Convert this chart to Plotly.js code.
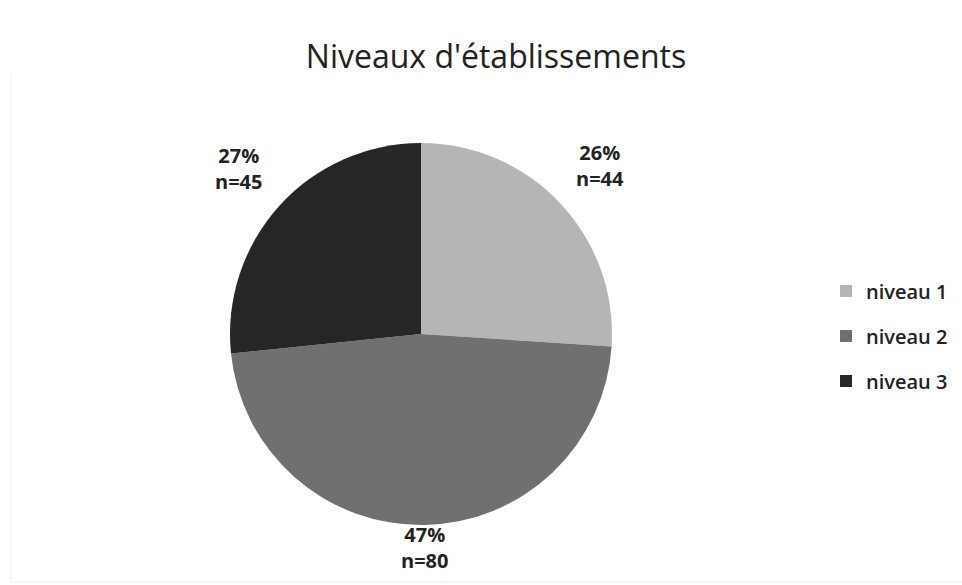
<!DOCTYPE html>
<html>
<head>
<meta charset="utf-8">
<script src="https://cdn.plot.ly/plotly-3.0.1.min.js"></script>
<style>html,body{margin:0;padding:0;background:#fff;}#chart{width:962px;height:585px;}</style>
</head>
<body>
<div id="chart"></div>
<script>
const labels = ['niveau 1', 'niveau 2', 'niveau 3'];
const counts = [44, 80, 45];
const colors = ['#b5b5b5', '#707070', '#262626'];
const titleText = "Niveaux d'établissements";

const W = 962, H = 585;
const cx = 421, cy = 334, r = 191;

const total = counts.reduce((a, b) => a + b, 0);

const pie = {
  type: 'pie',
  labels: labels,
  values: counts,
  sort: false,
  direction: 'clockwise',
  rotation: 0,
  marker: { colors: colors, line: { width: 0 } },
  textinfo: 'none',
  showlegend: false,
  domain: { x: [(cx - r) / W, (cx + r) / W], y: [(H - cy - r) / H, (H - cy + r) / H] },
  hoverinfo: 'label+value+percent',
  automargin: false
};

// legend entries (one legend per category so the spacing matches the original)
const legendIds = ['legend', 'legend2', 'legend3'];
const legendTraces = labels.map((lab, i) => ({
  type: 'scatter',
  mode: 'markers',
  x: [null], y: [null],
  name: lab,
  legend: legendIds[i],
  marker: { symbol: 'square', size: 12, color: colors[i] },
  hoverinfo: 'skip'
}));

// data labels placed outside each slice, at its mid angle
const annotations = [];
let acc = 0;
counts.forEach((v, i) => {
  const frac = v / total;
  const mid = (acc + frac / 2) * 2 * Math.PI;
  acc += frac;
  const ux = Math.sin(mid), uy = -Math.cos(mid);
  const d = r + 22 + 45 * Math.abs(ux);
  const px = cx + d * ux, py = cy + d * uy;
  annotations.push({
    xref: 'paper', yref: 'paper',
    x: px / W, y: 1 - py / H,
    xanchor: 'center', yanchor: 'middle',
    showarrow: false,
    text: Math.round(frac * 100) + '%<br>n=' + v,
    font: { family: 'Open Sans', size: 20, weight: 700, color: '#222222' }
  });
});

const legendBase = {
  xanchor: 'left', yanchor: 'middle',
  font: { family: 'Open Sans', size: 20, weight: 600, color: '#222222' },
  bgcolor: 'rgba(0,0,0,0)'
};
const legendX = 826 / W;
const legendYs = [291, 336, 381];

const layout = {
  width: W, height: H,
  margin: { l: 0, r: 0, t: 0, b: 0 },
  paper_bgcolor: '#ffffff',
  plot_bgcolor: 'rgba(0,0,0,0)',
  title: {
    text: titleText,
    font: { family: 'Open Sans', size: 32, color: '#222222' },
    x: 496 / W, xanchor: 'center',
    y: 1 - 57 / H, yanchor: 'middle'
  },
  xaxis: { visible: false, fixedrange: true },
  yaxis: { visible: false, fixedrange: true },
  showlegend: true,
  legend: Object.assign({}, legendBase, { x: legendX, y: 1 - legendYs[0] / H }),
  legend2: Object.assign({}, legendBase, { x: legendX, y: 1 - legendYs[1] / H }),
  legend3: Object.assign({}, legendBase, { x: legendX, y: 1 - legendYs[2] / H }),
  annotations: annotations,
  shapes: [
    { type: 'line', xref: 'paper', yref: 'paper', x0: 11 / W, x1: 11 / W, y0: 3 / H, y1: 1 - 75 / H, line: { color: '#ececec', width: 1 } },
    { type: 'line', xref: 'paper', yref: 'paper', x0: 11 / W, x1: 1, y0: 3 / H, y1: 3 / H, line: { color: '#ececec', width: 1 } }
  ]
};

Plotly.newPlot('chart', [pie].concat(legendTraces), layout, { displayModeBar: false, staticPlot: true });
</script>
</body>
</html>
